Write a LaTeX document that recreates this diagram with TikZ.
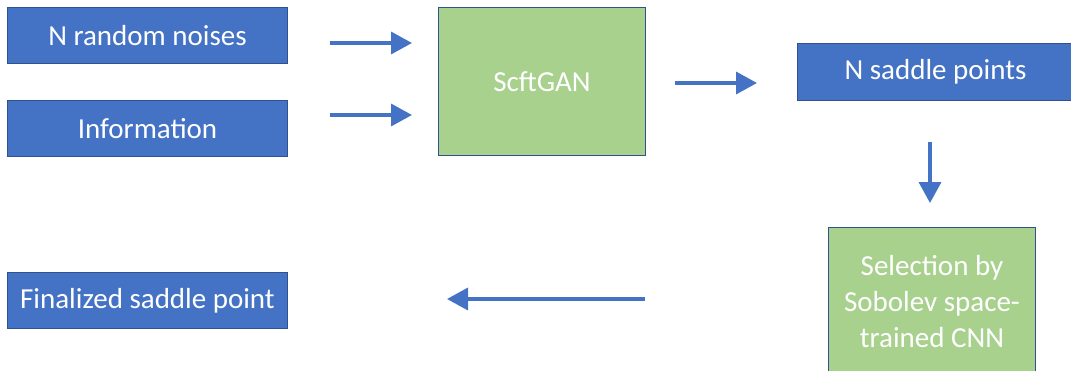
\documentclass[tikz,border=0pt]{standalone}
\usepackage{fontspec}
\setmainfont{Carlito}
\usetikzlibrary{arrows.meta}
\definecolor{boxblue}{HTML}{4472C4}
\definecolor{edgeblue}{HTML}{2F528F}
\definecolor{boxgreen}{HTML}{A9D18E}
\begin{document}
\begin{tikzpicture}[x=1pt,y=-1pt,
  bluebox/.style={rectangle,draw=edgeblue,line width=1pt,fill=boxblue,text=white,inner sep=0pt,anchor=north west,font=\fontsize{29}{36}\selectfont},
  greenbox/.style={rectangle,draw=edgeblue,line width=1pt,fill=boxgreen,text=white,inner sep=0pt,anchor=north west,align=center,font=\fontsize{29}{36}\selectfont},
  flow/.style={draw=boxblue,line width=3.5pt,-{Triangle[length=21pt,width=22pt]}}]
\useasboundingbox (0,0) rectangle (1071,370);
\node[bluebox,minimum width=280pt,minimum height=56pt] (noise) at (7,7) {N random noises};
\node[bluebox,minimum width=280pt,minimum height=56pt] (info) at (7,100) {Information};
\node[greenbox,minimum width=207pt,minimum height=148pt] (gan) at (438,7) {ScftGAN};
\node[bluebox,minimum width=276pt,minimum height=57pt] (saddle) at (797,43) {N saddle points};
\node[greenbox,minimum width=207pt,minimum height=148pt] (sel) at (828,227) {Selection by\\Sobolev space-\\trained CNN};
\node[bluebox,minimum width=280pt,minimum height=56pt] (final) at (7,272) {Finalized saddle point};
\coordinate (a1s) at (330,43); \coordinate (a1e) at (412,43);
\coordinate (a2s) at (330,115); \coordinate (a2e) at (412,115);
\coordinate (a3s) at (675,83); \coordinate (a3e) at (757,83);
\coordinate (a4s) at (930,142); \coordinate (a4e) at (930,203);
\coordinate (a5s) at (645,299); \coordinate (a5e) at (447,299);
\draw[flow] (a1s) -- (a1e);
\draw[flow] (a2s) -- (a2e);
\draw[flow] (a3s) -- (a3e);
\draw[flow] (a4s) -- (a4e);
\draw[flow] (a5s) -- (a5e);
\end{tikzpicture}
\end{document}
